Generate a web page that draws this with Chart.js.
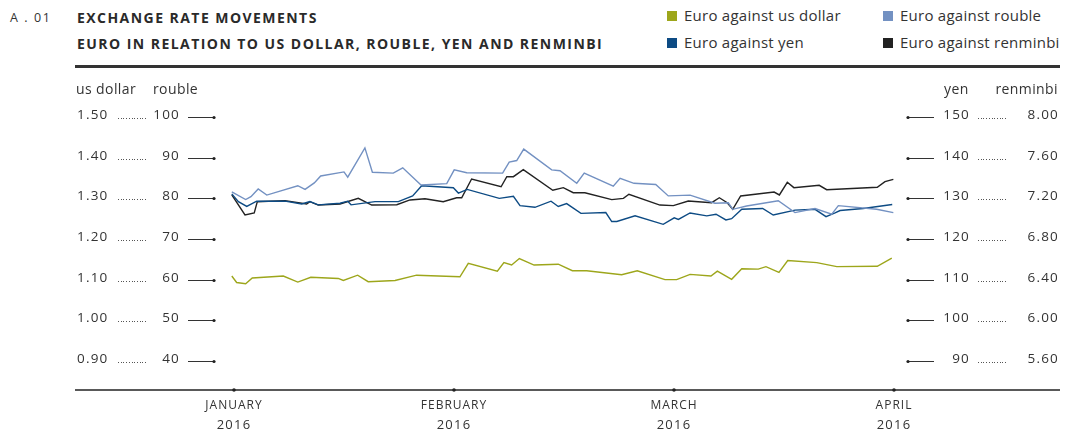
<!DOCTYPE html>
<html>
<head>
<meta charset="utf-8">
<script src="https://cdn.jsdelivr.net/npm/chart.js@4"></script>
<style>
  html, body { margin: 0; padding: 0; background: #fff; }
  body { width: 1066px; height: 434px; position: relative; overflow: hidden;
         font-family: "Open Sans", sans-serif; color: #333; }
  #wrap { position: absolute; left: 0; top: 0; width: 1066px; height: 434px; }
  .num { position: absolute; left: 10px; top: 9px; font-size: 12.5px; letter-spacing: 1.6px; color: #333; }
  .title { position: absolute; left: 77px; font-size: 14px; font-weight: 700; letter-spacing: 1.45px; color: #2a2a2a; }
  .rule { position: absolute; left: 75px; top: 65px; width: 985px; height: 3px; background: #333; }
  .leg { position: absolute; font-size: 15px; letter-spacing: 0.25px; color: #333; white-space: nowrap; }
  .leg i { display: inline-block; width: 10px; height: 10px; margin-right: 7px; vertical-align: 0px; }
</style>
</head>
<body>
<div class="num">A . 01</div>
<div class="title" style="top:8px">EXCHANGE RATE MOVEMENTS</div>
<div class="title" style="top:34px">EURO IN RELATION TO US DOLLAR, ROUBLE, YEN AND RENMINBI</div>
<div class="rule"></div>
<div class="leg" style="left:667px; top:5px"><i style="background:#9da61b"></i>Euro against us dollar</div>
<div class="leg" style="left:883px; top:5px"><i style="background:#7391c2"></i>Euro against rouble</div>
<div class="leg" style="left:667px; top:32px"><i style="background:#0d4b84"></i>Euro against yen</div>
<div class="leg" style="left:883px; top:32px"><i style="background:#222"></i>Euro against renminbi</div>
<div id="wrap"><canvas id="chart" width="1066" height="434"></canvas></div>

<script>
// =========================
// Data (x = position in months, 0 = January 2016)
// =========================

const months = ["JANUARY", "FEBRUARY", "MARCH", "APRIL"];
const year = "2016";

const usdTicks = ["1.50", "1.40", "1.30", "1.20", "1.10", "1.00", "0.90"];
const rubTicks = ["100", "90", "80", "70", "60", "50", "40"];
const yenTicks = ["150", "140", "130", "120", "110", "100", "90"];
const cnyTicks = ["8.00", "7.60", "7.20", "6.80", "6.40", "6.00", "5.60"];

const usdX = [-0.010, 0.012, 0.053, 0.083, 0.224, 0.290, 0.349, 0.474, 0.497, 0.562, 0.610, 0.732,
    0.830, 1.027, 1.065, 1.197, 1.227, 1.262, 1.297, 1.364, 1.474, 1.538, 1.603, 1.762, 1.833,
    1.959, 2.012, 2.073, 2.168, 2.197, 2.262, 2.308, 2.383, 2.418, 2.477, 2.517, 2.649, 2.740,
    2.924, 2.990];
const usdY = [1.109, 1.093, 1.090, 1.104, 1.109, 1.094, 1.106, 1.103, 1.098, 1.111, 1.095, 1.098,
    1.111, 1.107, 1.140, 1.121, 1.142, 1.136, 1.152, 1.136, 1.138, 1.122, 1.122, 1.112, 1.122,
    1.100, 1.100, 1.113, 1.109, 1.121, 1.101, 1.127, 1.126, 1.132, 1.118, 1.147, 1.142, 1.132,
    1.133, 1.153];

const rubX = [-0.010, 0.053, 0.077, 0.110, 0.149, 0.290, 0.323, 0.365, 0.394, 0.500, 0.517, 0.595,
    0.629, 0.724, 0.767, 0.850, 0.967, 1.001, 1.058, 1.221, 1.251, 1.285, 1.317, 1.444, 1.482,
    1.558, 1.592, 1.724, 1.755, 1.818, 1.917, 1.974, 2.073, 2.186, 2.247, 2.267, 2.330, 2.474,
    2.550, 2.641, 2.717, 2.747, 2.921, 2.997];
const rubY = [81.6, 79.7, 80.4, 82.3, 80.8, 83.1, 82.2, 83.8, 85.5, 86.5, 85.2, 92.4,
    86.4, 86.2, 87.5, 83.3, 83.6, 87.0, 86.3, 86.2, 88.9, 89.3, 92.1, 87.0, 86.8,
    83.7, 86.2, 83.0, 84.9, 83.7, 83.4, 80.6, 80.8, 78.8, 78.9, 77.3, 78.1, 79.4,
    76.5, 77.5, 76.1, 78.2, 77.3, 76.5];

const yenX = [-0.010, 0.020, 0.058, 0.103, 0.232, 0.308, 0.345, 0.383, 0.482, 0.517, 0.532, 0.641,
    0.747, 0.812, 0.853, 0.997, 1.020, 1.060, 1.206, 1.270, 1.300, 1.368, 1.441, 1.474, 1.512,
    1.577, 1.690, 1.717, 1.740, 1.823, 1.951, 2.001, 2.020, 2.073, 2.149, 2.191, 2.236, 2.262,
    2.308, 2.403, 2.451, 2.550, 2.641, 2.691, 2.732, 2.755, 2.860, 2.992];
const yenY = [131.1, 129.2, 128.0, 129.3, 129.3, 128.6, 129.2, 128.4, 128.8, 129.3, 128.4, 129.2,
    129.2, 130.6, 133.1, 132.6, 131.3, 132.2, 130.0, 130.5, 128.2, 127.8, 129.3, 128.0, 128.7,
    126.3, 126.5, 124.3, 124.3, 125.7, 123.6, 125.2, 124.8, 126.4, 125.7, 126.1, 124.7, 125.0,
    127.3, 127.5, 125.9, 127.1, 127.3, 125.5, 126.4, 127.0, 127.5, 128.5];

const cnyX = [-0.010, 0.050, 0.092, 0.106, 0.232, 0.330, 0.345, 0.383, 0.482, 0.565, 0.626, 0.740,
    0.800, 0.868, 0.951, 1.012, 1.035, 1.080, 1.214, 1.240, 1.270, 1.315, 1.449, 1.497, 1.542,
    1.595, 1.717, 1.770, 1.795, 1.936, 1.997, 2.065, 2.171, 2.206, 2.242, 2.267, 2.303, 2.455,
    2.479, 2.515, 2.545, 2.660, 2.694, 2.924, 2.959, 2.997];
const cnyY = [7.233, 7.036, 7.056, 7.167, 7.177, 7.144, 7.167, 7.134, 7.144, 7.200, 7.134, 7.137,
    7.184, 7.196, 7.167, 7.206, 7.206, 7.390, 7.314, 7.413, 7.413, 7.482, 7.279, 7.305, 7.255,
    7.255, 7.187, 7.200, 7.240, 7.134, 7.128, 7.174, 7.157, 7.206, 7.157, 7.092, 7.223, 7.262,
    7.233, 7.358, 7.305, 7.328, 7.285, 7.309, 7.364, 7.387];

const usdColor = "#9da61b";
const rubColor = "#7391c2";
const yenColor = "#0d4b84";
const cnyColor = "#222222";

function toPoints(xs, ys) {
    return xs.map((x, i) => ({ x: x, y: ys[i] }));
}

// =========================
// Axis drawing plugin
// =========================

const FONT = '"Open Sans", sans-serif';

function dottedLeader(ctx, x1, x2, y) {
    ctx.fillStyle = "#555";
    for (let x = x1; x <= x2; x += 2.7) {
        ctx.fillRect(Math.round(x), y, 1, 1);
    }
}

const axisPlugin = {
    id: "axisPlugin",
    afterDraw(chart) {
        const ctx = chart.ctx;
        const yS = chart.scales.yUsd;
        const xS = chart.scales.x;
        ctx.save();

        // column headers
        ctx.font = "14px " + FONT;
        ctx.letterSpacing = "0.4px";
        ctx.fillStyle = "#333";
        ctx.textBaseline = "middle";
        ctx.textAlign = "left";
        ctx.fillText("us dollar", 76, 90);
        ctx.fillText("rouble", 153, 90);
        ctx.fillText("yen", 944, 90);
        ctx.textAlign = "right";
        ctx.fillText("renminbi", 1058, 90);

        ctx.font = "13.5px " + FONT;
        ctx.letterSpacing = "1.2px";

        usdTicks.forEach((t, i) => {
            const y = Math.round(yS.getPixelForValue(parseFloat(t)));

            ctx.fillStyle = "#333";
            ctx.textBaseline = "middle";

            // left side
            ctx.textAlign = "left";
            ctx.fillText(t, 77, y - 2);
            dottedLeader(ctx, 118, 145, y + 1);
            ctx.fillStyle = "#333";
            ctx.textAlign = "right";
            ctx.fillText(rubTicks[i], 180, y - 2);

            ctx.strokeStyle = "#333";
            ctx.lineWidth = 1;
            ctx.beginPath();
            ctx.moveTo(188, y + 0.5);
            ctx.lineTo(214, y + 0.5);
            ctx.stroke();
            ctx.fillStyle = "#222";
            ctx.beginPath();
            ctx.arc(214, y + 0.5, 1.6, 0, Math.PI * 2);
            ctx.fill();

            // right side
            ctx.beginPath();
            ctx.moveTo(908, y + 0.5);
            ctx.lineTo(934, y + 0.5);
            ctx.stroke();
            ctx.beginPath();
            ctx.arc(908, y + 0.5, 1.6, 0, Math.PI * 2);
            ctx.fill();

            ctx.fillStyle = "#333";
            ctx.textAlign = "right";
            ctx.fillText(yenTicks[i], 970, y - 2);
            dottedLeader(ctx, 978, 1007, y + 1);
            ctx.fillStyle = "#333";
            ctx.fillText(cnyTicks[i], 1059, y - 2);
        });

        // x axis line
        ctx.strokeStyle = "#222";
        ctx.lineWidth = 1.5;
        ctx.beginPath();
        ctx.moveTo(75, 390);
        ctx.lineTo(1060, 390);
        ctx.stroke();

        months.forEach((m, i) => {
            const x = xS.getPixelForValue(i);
            ctx.fillStyle = "#222";
            ctx.beginPath();
            ctx.arc(x, 390, 1.8, 0, Math.PI * 2);
            ctx.fill();

            ctx.fillStyle = "#333";
            ctx.textAlign = "center";
            ctx.textBaseline = "middle";
            ctx.font = "12px " + FONT;
            ctx.letterSpacing = "1px";
            ctx.fillText(m, x, 406);
            ctx.font = "13px " + FONT;
            ctx.letterSpacing = "1.2px";
            ctx.fillText(year, x, 425);
        });

        ctx.restore();
    }
};

// =========================
// Chart
// =========================

function lineSet(label, pts, color, axis) {
    return {
        label: label,
        data: pts,
        yAxisID: axis,
        borderColor: color,
        backgroundColor: color,
        borderWidth: 1.4,
        pointRadius: 0,
        tension: 0,
        clip: false
    };
}

new Chart(document.getElementById("chart"), {
    type: "line",
    data: {
        datasets: [
            lineSet("Euro against rouble", toPoints(rubX, rubY), rubColor, "yRub"),
            lineSet("Euro against yen", toPoints(yenX, yenY), yenColor, "yYen"),
            lineSet("Euro against renminbi", toPoints(cnyX, cnyY), cnyColor, "yCny"),
            lineSet("Euro against us dollar", toPoints(usdX, usdY), usdColor, "yUsd")
        ]
    },
    options: {
        responsive: false,
        animation: false,
        layout: {
            padding: { left: 229.6, right: 172, top: 117, bottom: 73 }
        },
        plugins: {
            legend: { display: false },
            tooltip: { enabled: false }
        },
        scales: {
            x: { type: "linear", min: -0.02, max: 3, display: false },
            yUsd: { type: "linear", min: 0.9, max: 1.5, display: false },
            yRub: { type: "linear", min: 40, max: 100, display: false },
            yYen: { type: "linear", min: 90, max: 150, display: false },
            yCny: { type: "linear", min: 5.6, max: 8.0, display: false }
        }
    },
    plugins: [axisPlugin]
});
</script>
</body>
</html>
